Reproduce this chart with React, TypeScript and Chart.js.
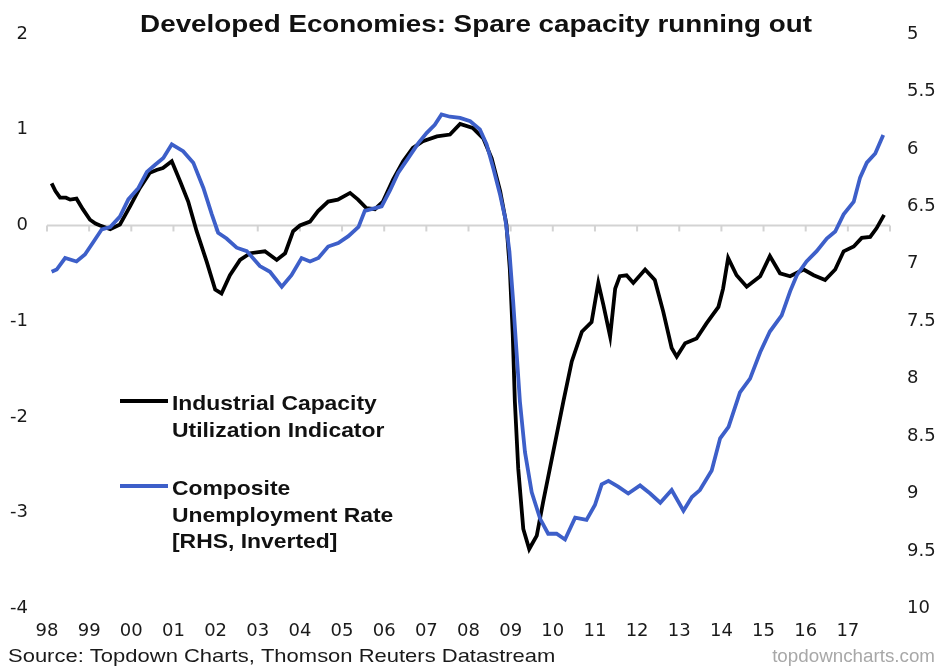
import React, { useEffect, useRef } from "react";
import { Chart, registerables } from "chart.js";

Chart.register(...registerables);

const TITLE = "Developed Economies: Spare capacity running out";
const SOURCE = "Source: Topdown Charts, Thomson Reuters Datastream";
const WATERMARK = "topdowncharts.com";
const LEGEND_CAPACITY = ["Industrial Capacity", "Utilization Indicator"];
const LEGEND_UNEMP = ["Composite", "Unemployment Rate", "[RHS, Inverted]"];
const YEAR_LABELS = ["98", "99", "00", "01", "02", "03", "04", "05", "06", "07", "08", "09", "10", "11", "12", "13", "14", "15", "16", "17"];
const FIRST_YEAR = 1998;
const LAST_YEAR = 2018;

// Industrial Capacity Utilization Indicator (LHS)
const capacityDates = [
  1998.11, 1998.2, 1998.31, 1998.45, 1998.55, 1998.7, 1998.85, 1999.02, 1999.15, 1999.26, 1999.5, 1999.73, 1999.97,
  2000.2, 2000.44, 2000.6, 2000.75, 2000.96, 2001.16, 2001.35, 2001.55, 2001.79, 2001.99, 2002.14, 2002.34, 2002.58,
  2002.82, 2003.17, 2003.45, 2003.65, 2003.84, 2004.0, 2004.24, 2004.43, 2004.67, 2004.9, 2005.19, 2005.38, 2005.58,
  2005.78, 2005.97, 2006.21, 2006.45, 2006.68, 2006.92, 2007.25, 2007.56, 2007.8, 2008.1, 2008.35, 2008.55, 2008.75,
  2008.9, 2008.98, 2009.05, 2009.1, 2009.18, 2009.3, 2009.44, 2009.62, 2009.77, 2009.93, 2010.09, 2010.25, 2010.45,
  2010.69, 2010.92, 2011.08, 2011.2, 2011.36, 2011.48, 2011.59, 2011.75, 2011.91, 2012.19, 2012.42, 2012.62, 2012.82,
  2012.94, 2013.14, 2013.41, 2013.65, 2013.93, 2014.04, 2014.16, 2014.36, 2014.6, 2014.92, 2015.15, 2015.39, 2015.63,
  2015.95, 2016.19, 2016.46, 2016.7, 2016.9, 2017.14, 2017.33, 2017.53, 2017.68, 2017.86,
];
const capacityValues = [
  0.44, 0.36, 0.29, 0.29, 0.27, 0.28, 0.17, 0.06, 0.02, 0.0, -0.04, 0.01, 0.2,
  0.39, 0.55, 0.58, 0.6, 0.67, 0.46, 0.25, -0.06, -0.38, -0.67, -0.71, -0.52, -0.36,
  -0.29, -0.27, -0.36, -0.29, -0.06, 0.0, 0.04, 0.15, 0.25, 0.27, 0.34, 0.27, 0.18,
  0.17, 0.25, 0.48, 0.67, 0.81, 0.88, 0.93, 0.95, 1.06, 1.02, 0.91, 0.7, 0.36,
  0.01, -0.45, -1.14, -1.84, -2.54, -3.17, -3.38, -3.24, -2.89, -2.54, -2.19, -1.84, -1.42,
  -1.11, -1.01, -0.6, -0.83, -1.16, -0.66, -0.53, -0.52, -0.6, -0.46, -0.57, -0.9, -1.28,
  -1.37, -1.23, -1.18, -1.02, -0.85, -0.66, -0.34, -0.52, -0.64, -0.53, -0.32, -0.5, -0.53,
  -0.46, -0.52, -0.57, -0.46, -0.27, -0.22, -0.13, -0.12, -0.03, 0.11,
];

// Composite Unemployment Rate (RHS, inverted)
const unempDates = [
  1998.11, 1998.23, 1998.43, 1998.7, 1998.9, 1999.1, 1999.3, 1999.5, 1999.73, 1999.93, 2000.17, 2000.37, 2000.56,
  2000.76, 2000.96, 2001.23, 2001.47, 2001.71, 2001.91, 2002.06, 2002.26, 2002.5, 2002.74, 2003.05, 2003.29, 2003.57,
  2003.8, 2004.04, 2004.24, 2004.44, 2004.67, 2004.91, 2005.15, 2005.39, 2005.54, 2005.74, 2005.94, 2006.14, 2006.33,
  2006.57, 2006.81, 2007.01, 2007.2, 2007.36, 2007.56, 2007.8, 2008.04, 2008.27, 2008.43, 2008.59, 2008.75, 2008.87,
  2008.97, 2009.06, 2009.14, 2009.22, 2009.34, 2009.5, 2009.7, 2009.89, 2010.09, 2010.29, 2010.53, 2010.8, 2011.0,
  2011.16, 2011.32, 2011.55, 2011.79, 2012.07, 2012.31, 2012.55, 2012.82, 2013.1, 2013.3, 2013.49, 2013.77, 2013.97,
  2014.17, 2014.44, 2014.68, 2014.92, 2015.15, 2015.43, 2015.63, 2015.79, 2016.02, 2016.26, 2016.5, 2016.7, 2016.9,
  2017.14, 2017.29, 2017.45, 2017.65, 2017.84,
];
const unempValues = [
  7.07, 7.05, 6.95, 6.98, 6.92, 6.81, 6.7, 6.68, 6.59, 6.44, 6.34, 6.2, 6.14,
  6.08, 5.96, 6.02, 6.12, 6.34, 6.57, 6.73, 6.78, 6.86, 6.89, 7.02, 7.07, 7.2,
  7.1, 6.95, 6.98, 6.95, 6.85, 6.82, 6.76, 6.68, 6.54, 6.52, 6.5, 6.36, 6.21,
  6.08, 5.95, 5.86, 5.79, 5.7, 5.72, 5.73, 5.76, 5.83, 5.96, 6.17, 6.4, 6.6,
  6.89, 7.33, 7.77, 8.2, 8.64, 8.99, 9.22, 9.35, 9.35, 9.4, 9.21, 9.23, 9.1,
  8.92, 8.89, 8.94, 9.0, 8.93, 9.0, 9.08, 8.97, 9.15, 9.03, 8.97, 8.8, 8.52,
  8.42, 8.12, 8.0, 7.77, 7.59, 7.45, 7.24, 7.1, 6.98, 6.89, 6.78, 6.72, 6.57,
  6.46, 6.25, 6.12, 6.04, 5.88,
];

const BLACK = "#000000";
const BLUE = "#3d5fc9";
const FONT = "'Liberation Sans', Arial, sans-serif";
const TICK_FONT = "'DejaVu Sans', sans-serif";

function drawStretched(ctx: CanvasRenderingContext2D, text: string, x: number, y: number, align: string, font: string, sx: number, color: string) {
  ctx.save();
  ctx.font = font;
  ctx.fillStyle = color;
  ctx.textBaseline = "alphabetic";
  ctx.textAlign = "left";
  const w = ctx.measureText(text).width * sx;
  const left = align === "left" ? x : align === "center" ? x - w / 2 : x - w;
  ctx.translate(left, y);
  ctx.scale(sx, 1);
  ctx.fillText(text, 0, 0);
  ctx.restore();
}

const decorPlugin = {
  id: "decor",
  beforeDatasetsDraw(chart: any) {
    const { ctx, chartArea, scales } = chart;
    const y0 = scales.y.getPixelForValue(0);
    ctx.save();
    ctx.strokeStyle = "#d3d3d3";
    ctx.lineWidth = 2;
    ctx.beginPath();
    ctx.moveTo(chartArea.left, y0);
    ctx.lineTo(chartArea.right, y0);
    ctx.stroke();
    for (let yr = FIRST_YEAR; yr <= LAST_YEAR; yr++) {
      const x = scales.x.getPixelForValue(yr);
      ctx.beginPath();
      ctx.moveTo(x, y0);
      ctx.lineTo(x, y0 + 6);
      ctx.stroke();
    }
    ctx.restore();
  },
  afterDraw(chart: any) {
    const ctx: CanvasRenderingContext2D = chart.ctx;
    drawStretched(ctx, TITLE, 476, 32, "center", `bold 24px ${FONT}`, 1.158, "#111");

    const drawEntry = (color: string, lines: string[], y: number) => {
      ctx.save();
      ctx.strokeStyle = color;
      ctx.lineWidth = 4;
      ctx.beginPath();
      ctx.moveTo(120, y);
      ctx.lineTo(168, y);
      ctx.stroke();
      ctx.restore();
      lines.forEach((t, i) => drawStretched(ctx, t, 172, y + 9 + i * 26.5, "left", `bold 21px ${FONT}`, 1.09, "#111"));
    };
    drawEntry(BLACK, LEGEND_CAPACITY, 401);
    drawEntry(BLUE, LEGEND_UNEMP, 486);

    drawStretched(ctx, SOURCE, 8, 662, "left", `19px ${FONT}`, 1.157, "#1a1a1a");
    drawStretched(ctx, WATERMARK, 935, 662, "right", `18.8px ${FONT}`, 1.0, "#a8a8a8");
  },
};

export default function App() {
  const canvasRef = useRef<HTMLCanvasElement | null>(null);

  useEffect(() => {
    document.body.style.margin = "0";
    const canvas = canvasRef.current;
    if (!canvas) return;
    const chart = new Chart(canvas, {
      type: "line",
      data: {
        datasets: [
          {
            label: "Composite Unemployment Rate [RHS, Inverted]",
            data: unempDates.map((d, i) => ({ x: d, y: unempValues[i] })),
            borderColor: BLUE,
            borderWidth: 3.8,
            pointRadius: 0,
            tension: 0,
            yAxisID: "y2",
            order: 0,
          },
          {
            label: "Industrial Capacity Utilization Indicator",
            data: capacityDates.map((d, i) => ({ x: d, y: capacityValues[i] })),
            borderColor: BLACK,
            borderWidth: 3.8,
            pointRadius: 0,
            tension: 0,
            yAxisID: "y",
            order: 1,
          },
        ],
      },
      options: {
        animation: false,
        responsive: false,
        maintainAspectRatio: false,
        layout: { padding: { top: 34, bottom: 12, left: 0, right: 0 } },
        plugins: {
          legend: { display: false },
          title: { display: false },
          tooltip: { enabled: false },
        },
        scales: {
          x: {
            type: "linear",
            min: FIRST_YEAR,
            max: LAST_YEAR,
            border: { display: false },
            grid: { display: false, drawTicks: false },
            ticks: {
              stepSize: 1,
              padding: 12,
              color: "#1a1a1a",
              font: { family: TICK_FONT, size: 18 },
              maxRotation: 0,
              autoSkip: false,
              callback: (v: any) => YEAR_LABELS[Math.round(Number(v)) - FIRST_YEAR] ?? "",
            },
          },
          y: {
            position: "left",
            min: -4,
            max: 2,
            border: { display: false },
            grid: { display: false, drawTicks: false },
            ticks: {
              stepSize: 1,
              padding: 19,
              color: "#1a1a1a",
              font: { family: TICK_FONT, size: 18 },
              callback: (v: any) => String(Number(v)),
            },
            afterFit: (s: any) => {
              s.width = 47;
            },
          },
          y2: {
            position: "right",
            min: 5,
            max: 10,
            reverse: true,
            border: { display: false },
            grid: { display: false, drawTicks: false },
            ticks: {
              stepSize: 0.5,
              padding: 17,
              color: "#1a1a1a",
              font: { family: TICK_FONT, size: 18 },
              callback: (v: any) => String(Number(v)),
            },
            afterFit: (s: any) => {
              s.width = 49;
            },
          },
        },
      },
      plugins: [decorPlugin],
    });
    return () => chart.destroy();
  }, []);

  return (
    <div style={{ position: "fixed", left: 0, top: 0, width: 939, height: 666, background: "#fff" }}>
      <canvas ref={canvasRef} width={939} height={666} />
    </div>
  );
}
